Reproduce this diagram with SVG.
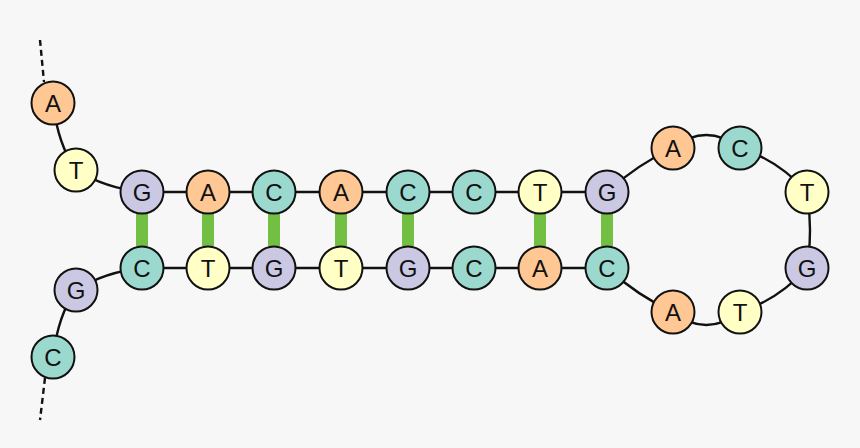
<svg xmlns="http://www.w3.org/2000/svg" width="860" height="448" viewBox="0 0 860 448">
<style>
.n{stroke:#111;stroke-width:2}
.A{fill:#ffc794}.C{fill:#9bd9ce}.G{fill:#cac8e2}.T{fill:#ffffc6}
.l{fill:none;stroke:#111;stroke-width:2.4}
.d{fill:none;stroke:#111;stroke-width:2.4;stroke-dasharray:6 4}
.b{stroke:#72bf44;stroke-width:12}
text{font-family:"Liberation Sans",Arial,sans-serif;font-size:24px;fill:#111;text-anchor:middle;dominant-baseline:central}
</style>
<rect width="860" height="448" fill="#f7f7f7"/>
<g id="connectors">
<path class="d" d="M40 40 L44 82"/>
<path class="d" d="M45 378 L40 420"/>
<path class="l" d="M53 103 Q58 145 76 170 Q105 188 142 192"/>
<path class="l" d="M53 357 Q58 315 76 290 Q105 272 142 268"/>
<path class="l" d="M142 192 H607 M142 268 H607"/>
<path class="l" d="M607 192 Q638 164 673 148 Q706 122 740 148 Q778 160 807 192 Q813 230 807 268 Q778 300 740 312 Q706 338 673 312 Q638 296 607 268"/>
<path class="b" d="M142 214 V246 M208 214 V246 M274 214 V246 M341 214 V246 M408 214 V246 M540 214 V246 M607 214 V246"/>
</g>
<g id="n1"><circle class="n A" cx="53" cy="103" r="21.5"/><text x="53" y="103">A</text></g>
<g id="n2"><circle class="n T" cx="76" cy="170" r="21.5"/><text x="76" y="170">T</text></g>
<g id="n3"><circle class="n G" cx="142" cy="192" r="21.5"/><text x="142" y="192">G</text></g>
<g id="n4"><circle class="n A" cx="208" cy="192" r="21.5"/><text x="208" y="192">A</text></g>
<g id="n5"><circle class="n C" cx="274" cy="192" r="21.5"/><text x="274" y="192">C</text></g>
<g id="n6"><circle class="n A" cx="341" cy="192" r="21.5"/><text x="341" y="192">A</text></g>
<g id="n7"><circle class="n C" cx="408" cy="192" r="21.5"/><text x="408" y="192">C</text></g>
<g id="n8"><circle class="n C" cx="474" cy="192" r="21.5"/><text x="474" y="192">C</text></g>
<g id="n9"><circle class="n T" cx="540" cy="192" r="21.5"/><text x="540" y="192">T</text></g>
<g id="n10"><circle class="n G" cx="607" cy="192" r="21.5"/><text x="607" y="192">G</text></g>
<g id="n11"><circle class="n A" cx="673" cy="148" r="21.5"/><text x="673" y="148">A</text></g>
<g id="n12"><circle class="n C" cx="740" cy="148" r="21.5"/><text x="740" y="148">C</text></g>
<g id="n13"><circle class="n T" cx="807" cy="192" r="21.5"/><text x="807" y="192">T</text></g>
<g id="n14"><circle class="n G" cx="807" cy="268" r="21.5"/><text x="807" y="268">G</text></g>
<g id="n15"><circle class="n T" cx="740" cy="312" r="21.5"/><text x="740" y="312">T</text></g>
<g id="n16"><circle class="n A" cx="673" cy="312" r="21.5"/><text x="673" y="312">A</text></g>
<g id="n17"><circle class="n C" cx="607" cy="268" r="21.5"/><text x="607" y="268">C</text></g>
<g id="n18"><circle class="n A" cx="540" cy="268" r="21.5"/><text x="540" y="268">A</text></g>
<g id="n19"><circle class="n C" cx="474" cy="268" r="21.5"/><text x="474" y="268">C</text></g>
<g id="n20"><circle class="n G" cx="408" cy="268" r="21.5"/><text x="408" y="268">G</text></g>
<g id="n21"><circle class="n T" cx="341" cy="268" r="21.5"/><text x="341" y="268">T</text></g>
<g id="n22"><circle class="n G" cx="274" cy="268" r="21.5"/><text x="274" y="268">G</text></g>
<g id="n23"><circle class="n T" cx="208" cy="268" r="21.5"/><text x="208" y="268">T</text></g>
<g id="n24"><circle class="n C" cx="142" cy="268" r="21.5"/><text x="142" y="268">C</text></g>
<g id="n25"><circle class="n G" cx="76" cy="290" r="21.5"/><text x="76" y="290">G</text></g>
<g id="n26"><circle class="n C" cx="53" cy="357" r="21.5"/><text x="53" y="357">C</text></g>
</svg>
